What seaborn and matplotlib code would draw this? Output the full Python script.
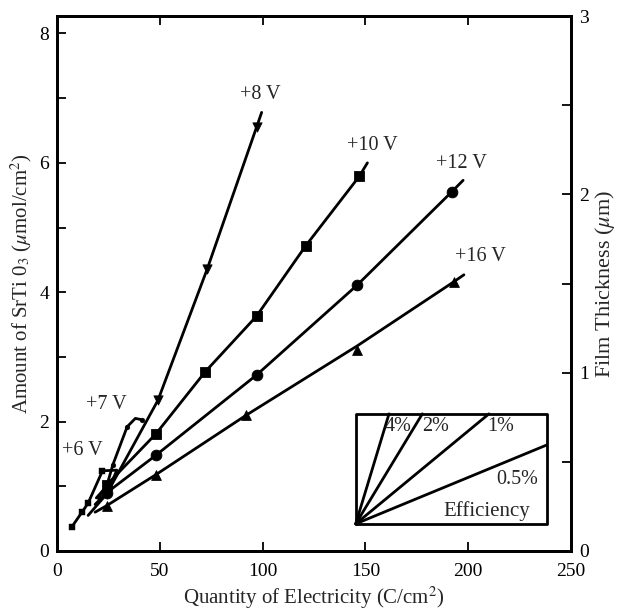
import numpy as np
import pandas as pd
import seaborn as sns
import matplotlib.pyplot as plt
from matplotlib.ticker import MultipleLocator

# measured points (Q in C/cm2, amount in umol/cm2)
q_6v = [7, 12, 15, 22]
a_6v = [0.37, 0.60, 0.74, 1.24]
q_6v_line = [7, 12, 15, 22, 29, 25]
a_6v_line = [0.37, 0.60, 0.74, 1.24, 1.25, 0.95]

q_7v = [27, 34, 41]
a_7v = [1.33, 1.92, 2.03]
q_7v_line = [19, 24, 27, 34, 38, 41]
a_7v_line = [0.82, 1.00, 1.33, 1.92, 2.05, 2.03]

q_8v = [24, 49, 73, 97]
a_8v = [0.88, 2.33, 4.36, 6.55]
q_8v_line = [15, 24, 49, 73, 97, 99.5]
a_8v_line = [0.55, 0.88, 2.33, 4.36, 6.55, 6.78]

q_10v = [24, 48, 72, 97, 121, 147]
a_10v = [1.02, 1.81, 2.77, 3.63, 4.72, 5.79]
q_10v_line = [20, 24, 48, 72, 97, 121, 147, 151]
a_10v_line = [0.81, 1.02, 1.81, 2.77, 3.63, 4.72, 5.79, 6.00]

q_12v = [24, 48, 97, 146, 192]
a_12v = [0.90, 1.48, 2.72, 4.11, 5.55]
q_12v_line = [18.4, 24, 48, 97, 146, 192, 197.6]
a_12v_line = [0.72, 0.90, 1.48, 2.72, 4.11, 5.55, 5.73]

q_16v = [24, 48, 92, 146, 193]
a_16v = [0.70, 1.18, 2.10, 3.10, 4.16]
q_16v_line = [18.4, 24, 48, 92, 146, 193, 198]
a_16v_line = [0.60, 0.70, 1.18, 2.10, 3.17, 4.16, 4.27]

volt_labels = ['+6 V', '+7 V', '+8 V', '+10 V', '+12 V', '+16 V']
label_q = [12, 24, 98.7, 153.6, 196.9, 205.8]
label_a = [1.56, 2.26, 7.06, 6.27, 5.99, 4.56]

# efficiency inset
eff_pct = [4, 2, 1, 0.5]
eff_labels = ['4%', '2%', '1%', '0.5%']
box_q = [145.3, 238.3]
box_a = [0.42, 2.12]
slope_per_pct = 0.0262  # umol/cm2 per C/cm2 for 1 %

sns.set_theme(style='ticks')
plt.rcParams['font.family'] = ['Liberation Serif', 'DejaVu Serif']
plt.rcParams['mathtext.fontset'] = 'stix'

fig = plt.figure(figsize=(6.19, 6.11), dpi=100)
ax = fig.add_axes([0.0926, 0.0982, 0.8294, 0.8756])

lw = 2.0
for ql, al in [(q_6v_line, a_6v_line), (q_7v_line, a_7v_line), (q_8v_line, a_8v_line),
               (q_10v_line, a_10v_line), (q_12v_line, a_12v_line), (q_16v_line, a_16v_line)]:
    d = pd.DataFrame({'q': ql, 'a': al})
    sns.lineplot(data=d, x='q', y='a', sort=False, estimator=None, color='black', lw=lw, ax=ax)

pts = [(q_6v, a_6v, 's', 14), (q_7v, a_7v, 'o', 12), (q_8v, a_8v, 'v', 45),
       (q_10v, a_10v, 's', 55), (q_12v, a_12v, 'o', 60), (q_16v, a_16v, '^', 50)]
for q, a, m, s in pts:
    sns.scatterplot(x=q, y=a, marker=m, s=s, color='black', edgecolor='black', zorder=3, ax=ax)

for t, x, y in zip(volt_labels, label_q, label_a):
    ax.text(x, y, t, fontsize=14.5, ha='center', va='center')

# inset box with efficiency lines
ax.plot([box_q[0], box_q[1], box_q[1], box_q[0], box_q[0]],
        [box_a[0], box_a[0], box_a[1], box_a[1], box_a[0]], color='black', lw=lw)
for e in eff_pct:
    k = slope_per_pct * e
    dq = min(box_q[1] - box_q[0], (box_a[1] - box_a[0]) / k)
    ax.plot([box_q[0], box_q[0] + dq], [box_a[0], box_a[0] + k * dq], color='black', lw=lw)
eff_pos = [(166, 1.92), (184, 1.92), (216, 1.92), (224, 1.1)]
for t, (x, y) in zip(eff_labels, eff_pos):
    ax.text(x, y, t, fontsize=14.5, ha='center', va='center')
ax.text(209, 0.62, 'Efficiency', fontsize=15, ha='center', va='center')

ax.set_xlim(0, 250)
ax.set_ylim(0, 8.27)
ax.xaxis.set_major_locator(MultipleLocator(50))
ax.yaxis.set_major_locator(MultipleLocator(2))
ax.yaxis.set_minor_locator(MultipleLocator(1))
ax.tick_params(which='both', direction='in', length=6.5, width=1.3, labelsize=14,
               top=True, right=False, color='black', labelcolor='black')
ax.tick_params(axis='x', pad=9)
ax.tick_params(axis='y', pad=6)
ax.set_xlabel('Quantity of Electricity (C/cm$^2$)', fontsize=15, labelpad=3)
ax.set_ylabel(r'Amount of SrTi 0$_3$ ($\mu$mol/cm$^2$)', fontsize=15, labelpad=4)

ax2 = ax.twinx()
ax2.set_ylim(0, 3)
ax2.yaxis.set_major_locator(MultipleLocator(1))
ax2.yaxis.set_minor_locator(MultipleLocator(0.5))
ax2.tick_params(which='both', direction='in', length=6.5, width=1.3, labelsize=14, pad=6,
                color='black', labelcolor='black')
ax2.set_ylabel(r'Film Thickness ($\mu$m)', fontsize=16, labelpad=3)

for a in (ax, ax2):
    for sp in a.spines.values():
        sp.set_linewidth(2)
        sp.set_color('black')

fig.savefig('out.png', dpi=100)
